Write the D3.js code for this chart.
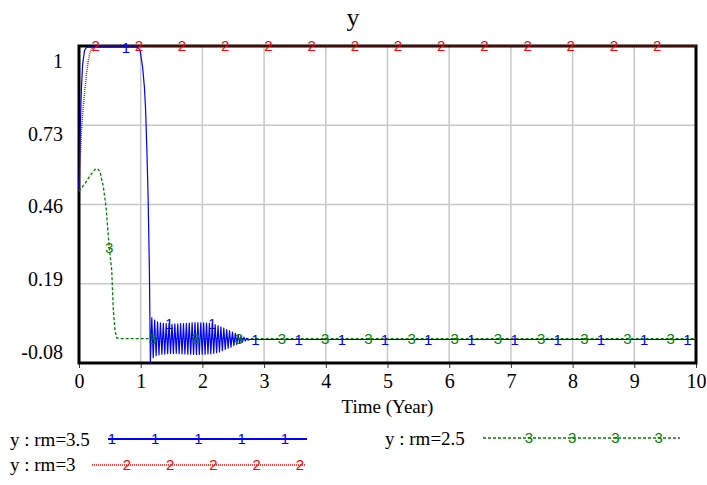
<!DOCTYPE html>
<html>
<head>
<meta charset="utf-8">
<script src="https://cdn.jsdelivr.net/npm/d3@7"></script>
<style>
  html, body { margin: 0; padding: 0; background: #fff; }
  svg { display: block; }
  .serif { font-family: "Liberation Serif", "Times New Roman", serif; fill: #000; }
  .mark { font-family: "Liberation Sans", Arial, sans-serif; font-size: 15px; }
</style>
</head>
<body>
<svg id="chart" width="707" height="485"></svg>
<script>
// Axis ticks
const xTicks = [0, 1, 2, 3, 4, 5, 6, 7, 8, 9, 10];
const yTicks = [1, 0.73, 0.46, 0.19, -0.08];

// y : rm=3.5 — fast rise, collapse near t=1.1, then a damped oscillation
const rm35Times  = [0, 0.02, 0.04, 0.06, 0.09, 0.12, 0.15, 0.95, 0.99, 1.03, 1.06, 1.08, 1.10, 1.12, 1.14];
const rm35Values = [0.51, 0.72, 0.86, 0.94, 0.985, 0.995, 0.996, 0.996, 0.985, 0.93, 0.86, 0.78, 0.646, 0.486, 0.25];
// oscillating part, saved every rm35OscStep years from rm35OscStart
const rm35OscStart = 1.1567;
const rm35OscStep = 0.023333;
const rm35OscValues = [
  -0.077, 0.074, -0.062, 0.066, -0.055, 0.060, -0.052, 0.057, -0.050, 0.055,
  -0.049, 0.054, -0.048, 0.054, -0.047, 0.052, -0.048, 0.053, -0.047, 0.053,
  -0.048, 0.054, -0.049, 0.054, -0.049, 0.055, -0.050, 0.056, -0.050, 0.057,
  -0.051, 0.058, -0.051, 0.058, -0.051, 0.057, -0.050, 0.057, -0.050, 0.056,
  -0.049, 0.055, -0.049, 0.055, -0.047, 0.051, -0.045, 0.047, -0.042, 0.043,
  -0.038, 0.039, -0.034, 0.034, -0.030, 0.030, -0.026, 0.025, -0.021, 0.021,
  -0.017, 0.016, -0.013, 0.012, -0.009, 0.008, -0.005, 0.004, -0.002, 0.0
];
const rm35TailTimes  = [10];
const rm35TailValues = [0.0];

// y : rm=3 — smooth rise to 1
const rm3Times  = [0, 0.02, 0.04, 0.06, 0.08, 0.10, 0.12, 0.15, 0.18, 0.22, 0.27, 10];
const rm3Values = [0.51, 0.62, 0.71, 0.77, 0.82, 0.86, 0.90, 0.95, 0.98, 0.995, 1.0, 1.0];

// y : rm=2.5 — small hump then decay to 0
const rm25Times  = [0, 0.10, 0.18, 0.26, 0.30, 0.34, 0.394, 0.438, 0.491, 0.53, 0.556, 0.583, 0.61, 0.654, 10];
const rm25Values = [0.505, 0.533, 0.558, 0.58, 0.582, 0.572, 0.521, 0.452, 0.311, 0.237, 0.10, 0.032, 0.006, 0.003, 0.003];

// number markers along each run
const markerGap = 0.7;
const markerCount = 14;

const zip = (ts, vs) => ts.map((t, i) => ({ t, v: vs[i] }));

const rm35 = zip(rm35Times, rm35Values)
  .concat(rm35OscValues.map((v, i) => ({ t: rm35OscStart + i * rm35OscStep, v })))
  .concat(zip(rm35TailTimes, rm35TailValues));
const rm3 = zip(rm3Times, rm3Values);
const rm25 = zip(rm25Times, rm25Values);

const series = [
  { name: "y : rm=2.5", data: rm25, color: "#008000", dash: "3,2", width: 1.3, glyph: "3", firstMarker: 0.49 },
  { name: "y : rm=3",   data: rm3,  color: "#ff0000", dash: "1,1", width: 1.5, glyph: "2", firstMarker: 0.27 },
  { name: "y : rm=3.5", data: rm35, color: "#0000ff", dash: null,  width: 1.2, glyph: "1", firstMarker: 0.76 }
];

const plot = { left: 79, right: 696, top: 46, bottom: 363 };
const x = d3.scaleLinear().domain([0, 10]).range([plot.left, plot.right]);
const y = d3.scaleLinear().domain([-0.08, 1]).range([plot.bottom, plot.top]);
// value labels on the vertical axis sit on a slightly tighter band
const yLabel = d3.scaleLinear().domain([-0.08, 1]).range([352, 61]);

const svg = d3.select("#chart");

// title
svg.append("text").attr("class", "serif")
  .attr("x", 353).attr("y", 26)
  .attr("text-anchor", "middle")
  .attr("font-size", 26)
  .text("y");

// grid
const grid = svg.append("g").attr("stroke", "#c8c8c8").attr("stroke-width", 1.5);
grid.selectAll("line.v").data(xTicks.slice(1, -1)).join("line")
  .attr("x1", d => x(d)).attr("x2", d => x(d))
  .attr("y1", plot.top).attr("y2", plot.bottom);
grid.selectAll("line.h").data(yTicks.slice(1, -1)).join("line")
  .attr("x1", plot.left).attr("x2", plot.right)
  .attr("y1", d => y(d)).attr("y2", d => y(d));

// x axis
const xAxis = svg.append("g")
  .attr("transform", `translate(0,${plot.bottom})`)
  .call(d3.axisBottom(x).tickValues(xTicks).tickFormat(d3.format("d")).tickSize(5).tickPadding(6));
xAxis.select(".domain").remove();
xAxis.selectAll(".tick line").attr("stroke", "#333").attr("stroke-width", 1);
xAxis.selectAll(".tick text")
  .attr("class", "serif")
  .attr("font-size", 20)
  .attr("fill", "#000");

svg.append("text").attr("class", "serif")
  .attr("x", (plot.left + plot.right) / 2).attr("y", 413)
  .attr("text-anchor", "middle")
  .attr("font-size", 19)
  .text("Time (Year)");

// y labels
svg.append("g").selectAll("text").data(yTicks).join("text")
  .attr("class", "serif")
  .attr("x", 63)
  .attr("y", d => yLabel(d))
  .attr("dy", "0.34em")
  .attr("text-anchor", "end")
  .attr("font-size", 20)
  .text(d => d);

// frame
svg.append("rect")
  .attr("x", plot.left).attr("y", plot.top)
  .attr("width", plot.right - plot.left).attr("height", plot.bottom - plot.top)
  .attr("fill", "none").attr("stroke", "#000").attr("stroke-width", 3);

// lines
const line = d3.line().x(d => x(d.t)).y(d => y(d.v));
svg.append("g").selectAll("path").data(series).join("path")
  .attr("d", s => line(s.data))
  .attr("fill", "none")
  .attr("stroke", s => s.color)
  .attr("stroke-width", s => s.width)
  .attr("stroke-dasharray", s => s.dash)
  .attr("stroke-linejoin", "round");

// value at time t on a series (linear between saved points)
const bis = d3.bisector(d => d.t).left;
function valueAt(data, t) {
  const i = bis(data, t);
  if (i <= 0) return data[0].v;
  if (i >= data.length) return data[data.length - 1].v;
  const a = data[i - 1], b = data[i];
  return a.v + (b.v - a.v) * (t - a.t) / (b.t - a.t);
}

// numbered markers
series.forEach(s => {
  const times = d3.range(markerCount).map(k => s.firstMarker + k * markerGap);
  svg.append("g").selectAll("text").data(times).join("text")
    .attr("class", "mark")
    .attr("x", t => x(t))
    .attr("y", t => y(valueAt(s.data, t)))
    .attr("dy", "0.36em")
    .attr("text-anchor", "middle")
    .attr("fill", s.color)
    .text(s.glyph);
});

// legend
const legend = [
  { s: series[2], tx: 10,  ty: 446, x1: 108, x2: 307, ly: 439, m0: 112, w: 2 },
  { s: series[1], tx: 10,  ty: 471, x1: 92,  x2: 306, ly: 465, m0: 127, w: 1.5 },
  { s: series[0], tx: 385, ty: 445, x1: 483, x2: 680, ly: 438, m0: 529, w: 1.3 }
];
const legendStep = 43.2;
legend.forEach(L => {
  const g = svg.append("g");
  g.append("text").attr("class", "serif")
    .attr("x", L.tx).attr("y", L.ty).attr("font-size", 19)
    .text(L.s.name);
  g.append("line")
    .attr("x1", L.x1).attr("x2", L.x2).attr("y1", L.ly).attr("y2", L.ly)
    .attr("stroke", L.s.color).attr("stroke-width", L.w)
    .attr("stroke-dasharray", L.s.dash);
  const n = Math.floor((L.x2 - L.m0) / legendStep) + 1;
  g.selectAll("text.m").data(d3.range(n)).join("text")
    .attr("class", "mark")
    .attr("x", k => L.m0 + k * legendStep)
    .attr("y", L.ly).attr("dy", "0.36em")
    .attr("text-anchor", "middle")
    .attr("fill", L.s.color)
    .text(L.s.glyph);
});
</script>
</body>
</html>
